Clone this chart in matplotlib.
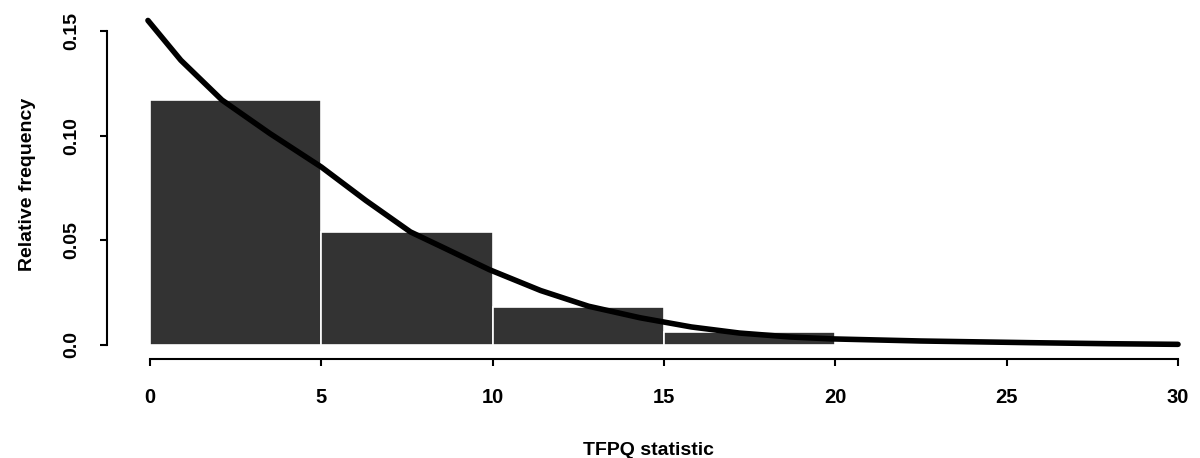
import numpy as np
import matplotlib.pyplot as plt

plt.rcParams['font.family'] = ['Liberation Sans', 'DejaVu Sans']

# histogram bins and relative frequencies
bin_edges = [0, 5, 10, 15, 20]
rel_freq = [0.117, 0.054, 0.0183, 0.0064]

# fitted density curve
curve_x = [-0.06, 0.9, 2.1, 3.5, 5.0, 6.3, 7.6, 8.5, 9.9, 11.4, 12.8, 14.3, 15.8,
           17.2, 18.7, 19.9, 22.5, 25.7, 28.0, 30.0]
curve_y = [0.155, 0.136, 0.117, 0.101, 0.085, 0.069, 0.054, 0.047, 0.036, 0.026, 0.0185,
           0.013, 0.0086, 0.0057, 0.0038, 0.0029, 0.0019, 0.0011, 0.0006, 0.0003]

xticks = [0, 5, 10, 15, 20, 25, 30]
yticks = [0.0, 0.05, 0.10, 0.15]
ytick_labels = ['0.0', '0.05', '0.10', '0.15']

fig = plt.figure(figsize=(12, 4.58), dpi=100)
ax = fig.add_axes([107 / 1200, 1 - 359 / 458, (1190 - 107) / 1200, (359 - 10) / 458])

widths = np.diff(bin_edges)
ax.bar(bin_edges[:-1], rel_freq, width=widths, align='edge',
       color='#333333', edgecolor='white', linewidth=1.2)
ax.plot(curve_x, curve_y, color='black', linewidth=4, solid_capstyle='round')

ax.set_xlim(-1.255, 30.35)
ax.set_ylim(-0.0067, 0.160)

for s in ['top', 'right']:
    ax.spines[s].set_visible(False)
ax.spines['left'].set_bounds(0, 0.15)
ax.spines['bottom'].set_bounds(0, 30)
ax.spines['left'].set_linewidth(1.5)
ax.spines['bottom'].set_linewidth(1.5)

ax.set_xticks(xticks)
ax.set_xticklabels([str(t) for t in xticks], fontsize=14.5, fontweight='bold')
ax.set_yticks(yticks)
ax.set_yticklabels(ytick_labels, fontsize=14, fontweight='bold', rotation=90, va='center')
ax.tick_params(direction='out', length=5, width=1.5)
ax.tick_params(axis='x', pad=16)
ax.tick_params(axis='y', pad=14)

ax.set_xlabel('TFPQ statistic', fontsize=14, fontweight='bold', labelpad=25)
ax.set_ylabel('Relative frequency', fontsize=14, fontweight='bold', labelpad=20)

plt.savefig('out.png', dpi=100)
